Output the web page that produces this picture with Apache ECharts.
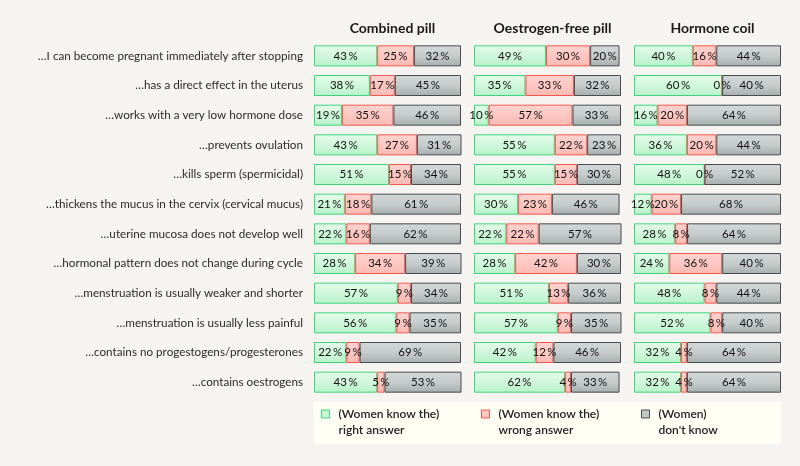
<!DOCTYPE html>
<html>
<head>
<meta charset="utf-8">
<script src="https://cdn.jsdelivr.net/npm/echarts@6/dist/echarts.min.js"></script>
<style>
  html, body { margin: 0; padding: 0; background: #f5f4f1; }
  #chart { width: 800px; height: 466px; }
</style>
</head>
<body>
<div id="chart"></div>
<script>
// statements (rows, top to bottom)
const categories = [
  '\u2026I can become pregnant immediately after stopping',
  '\u2026has a direct effect in the uterus',
  '\u2026works with a very low hormone dose',
  '\u2026prevents ovulation',
  '\u2026kills sperm (spermicidal)',
  '\u2026thickens the mucus in the cervix (cervical mucus)',
  '\u2026uterine mucosa does not develop well',
  '\u2026hormonal pattern does not change during cycle',
  '\u2026menstruation is usually weaker and shorter',
  '\u2026menstruation is usually less painful',
  '\u2026contains no progestogens/progesterones',
  '\u2026contains oestrogens'
]

const methods = ['Combined pill', 'Oestrogen-free pill', 'Hormone coil']

// answers in percent
const combinedRight   = [43, 38, 19, 43, 51, 21, 22, 28, 57, 56, 22, 43]
const combinedWrong   = [25, 17, 35, 27, 15, 18, 16, 34,  9,  9,  9,  5]
const combinedUnknown = [32, 45, 46, 31, 34, 61, 62, 39, 34, 35, 69, 53]

const freeRight   = [49, 35, 10, 55, 55, 30, 22, 28, 51, 57, 42, 62]
const freeWrong   = [30, 33, 57, 22, 15, 23, 22, 42, 13,  9, 12,  4]
const freeUnknown = [20, 32, 33, 23, 30, 46, 57, 30, 36, 35, 46, 33]

const coilRight   = [40, 60, 16, 36, 48, 12, 28, 24, 48, 52, 32, 32]
const coilWrong   = [16,  0, 20, 20,  0, 20,  8, 36,  8,  8,  4,  4]
const coilUnknown = [44, 40, 64, 44, 52, 68, 64, 40, 44, 40, 64, 64]

const answerNames = ['right answer', 'wrong answer', "don't know"]
const answerPrefix = ['(Women know the)', '(Women know the)', '(Women)']

const panelData = [
  [combinedRight, combinedWrong, combinedUnknown],
  [freeRight, freeWrong, freeUnknown],
  [coilRight, coilWrong, coilUnknown]
]

const fontFamily = 'Lato, "Noto Sans", sans-serif'

// segment styles: fill gradient + border
const styles = [
  {
    color: new echarts.graphic.LinearGradient(0, 0, 0, 1, [
      { offset: 0, color: '#e6fcec' },
      { offset: 1, color: '#b9f2ca' }
    ]),
    borderColor: '#3fd47c',
    legendColor: '#c8f6d6'
  },
  {
    color: new echarts.graphic.LinearGradient(0, 0, 0, 1, [
      { offset: 0, color: '#ffd4d0' },
      { offset: 1, color: '#fbbab4' }
    ]),
    borderColor: '#f2574e',
    legendColor: '#fcc8c3'
  },
  {
    color: new echarts.graphic.LinearGradient(0, 0, 0, 1, [
      { offset: 0, color: '#d3d8d8' },
      { offset: 0.5, color: '#c6cccc' },
      { offset: 1, color: '#a6aeae' }
    ]),
    borderColor: '#474c4c',
    legendColor: '#c3c9c9'
  }
]

const panelLeft = [314, 474, 634]
const panelWidth = 147

let chart = echarts.init(document.getElementById('chart'))

let grids = []
let xAxes = []
let yAxes = []
let titles = []
let series = []

panelLeft.forEach((left, p) => {
  grids.push({ left: left, width: panelWidth, top: 41, height: 356 })
  xAxes.push({
    gridIndex: p,
    type: 'value',
    min: 0,
    max: 100,
    show: false
  })
  yAxes.push({
    gridIndex: p,
    type: 'category',
    data: categories,
    inverse: true,
    axisLine: { show: false },
    axisTick: { show: false },
    splitLine: { show: false },
    axisLabel: {
      show: p === 0,
      margin: 11,
      color: '#2b2b2b',
      fontSize: 11.7,
      fontFamily: fontFamily
    }
  })
  titles.push({
    text: methods[p],
    left: left + panelWidth / 2,
    top: 16,
    textAlign: 'center',
    textStyle: {
      fontSize: 14,
      fontWeight: 'bold',
      color: '#1a1a1a',
      fontFamily: fontFamily
    }
  })
  panelData[p].forEach((values, s) => {
    series.push({
      name: answerNames[s],
      type: 'bar',
      stack: 'panel' + p,
      xAxisIndex: p,
      yAxisIndex: p,
      barWidth: 21,
      data: values,
      itemStyle: {
        color: styles[s].color,
        borderColor: styles[s].borderColor,
        borderWidth: 1
      },
      label: {
        show: true,
        position: 'inside',
        color: '#111',
        fontSize: 11.5,
        fontFamily: fontFamily,
        formatter: d => d.value + '\u2009%'
      },
      emphasis: { disabled: true }
    })
  })
})

// one legend per answer, placed inside the cream box
const legendLeft = [321, 481, 641]
const legends = answerNames.map((name, i) => ({
  data: [{ name: name, icon: 'rect' }],
  left: legendLeft[i],
  top: 390,
  padding: 0,
  itemWidth: 8,
  itemHeight: 8,
  itemGap: 0,
  selectedMode: false,
  itemStyle: { color: styles[i].legendColor, borderColor: styles[i].borderColor, borderWidth: 1 },
  formatter: n => '\n' + answerPrefix[i] + '\n' + n,
  textStyle: {
    fontSize: 12,
    fontWeight: 600,
    lineHeight: 16,
    color: '#222',
    fontFamily: fontFamily,
    padding: [0, 0, 0, 4]
  }
}))

chart.setOption({
  backgroundColor: '#f5f4f1',
  animation: false,
  title: titles,
  grid: grids,
  xAxis: xAxes,
  yAxis: yAxes,
  legend: legends,
  graphic: [{
    type: 'rect',
    z: -1,
    shape: { x: 314, y: 402, width: 467, height: 42 },
    style: { fill: '#fffff6' }
  }],
  series: series
})
</script>
</body>
</html>
